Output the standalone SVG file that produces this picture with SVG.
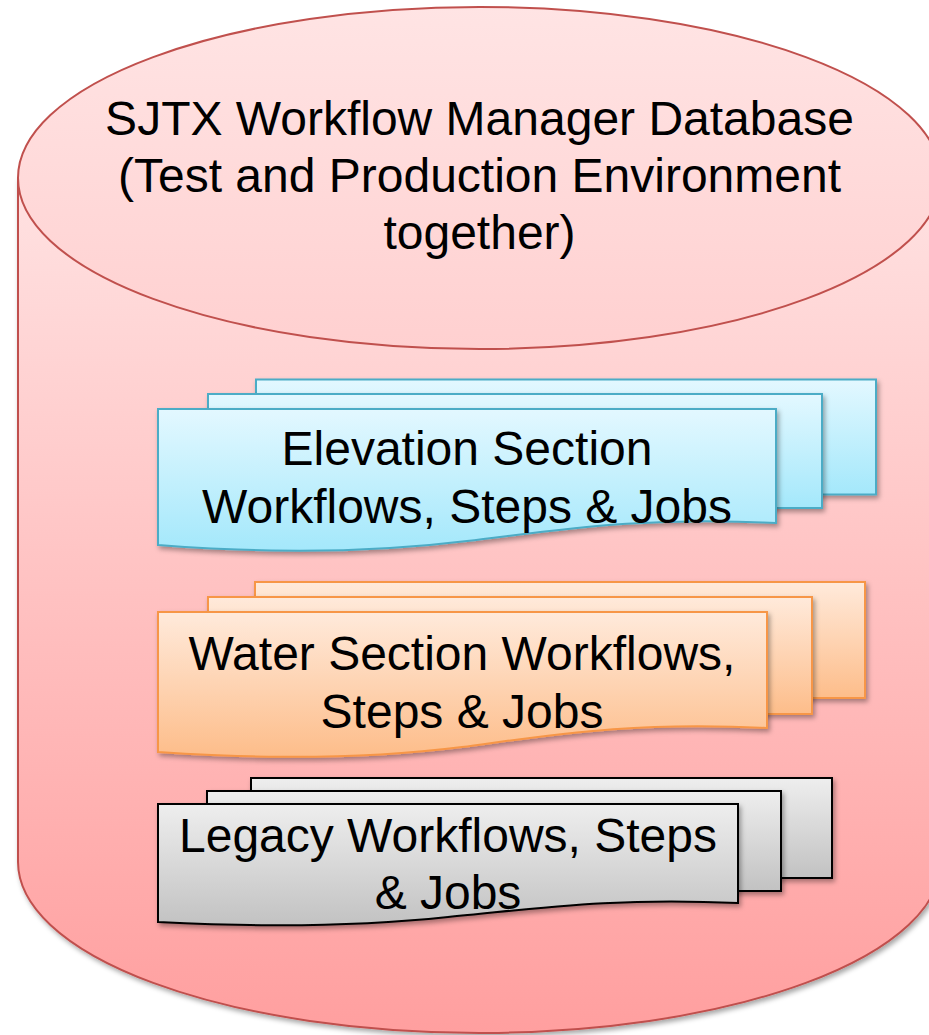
<svg xmlns="http://www.w3.org/2000/svg" width="929" height="1035" viewBox="0 0 929 1035">
<style>
text{font-family:"Liberation Sans",Arial,sans-serif;font-size:48px;fill:#000;text-anchor:middle}
.cyl{stroke:#c0504d;stroke-width:2}
.blue{stroke:#4bacc6;stroke-width:2;fill:url(#gBlue);filter:url(#sh)}
.orange{stroke:#f79646;stroke-width:2;fill:url(#gOrange);filter:url(#sh)}
.grey{stroke:#000;stroke-width:2;fill:url(#gGrey);filter:url(#sh)}
</style>
<defs>
<linearGradient id="gBody" x1="0" y1="0" x2="0" y2="1">
<stop offset="0" stop-color="#ffe2e2"/>
<stop offset="1" stop-color="#ff9f9f"/>
</linearGradient>
<linearGradient id="gTop" x1="0" y1="0" x2="0" y2="1">
<stop offset="0" stop-color="#ffe4e4"/>
<stop offset="1" stop-color="#ffd0d0"/>
</linearGradient>
<linearGradient id="gBlue" x1="0" y1="0" x2="0" y2="1">
<stop offset="0" stop-color="#e3f8ff"/>
<stop offset="1" stop-color="#a4e8fb"/>
</linearGradient>
<linearGradient id="gOrange" x1="0" y1="0" x2="0" y2="1">
<stop offset="0" stop-color="#ffeadb"/>
<stop offset="1" stop-color="#fdbd8a"/>
</linearGradient>
<linearGradient id="gGrey" x1="0" y1="0" x2="0" y2="1">
<stop offset="0" stop-color="#eeeeee"/>
<stop offset="1" stop-color="#c2c2c2"/>
</linearGradient>
<filter id="sh" x="-10%" y="-10%" width="120%" height="130%">
<feDropShadow dx="2" dy="3" stdDeviation="2.5" flood-color="#000" flood-opacity="0.35"/>
</filter>
</defs>

<g id="database">
<path class="cyl" fill="url(#gBody)" filter="url(#sh)" d="M18,178 V862 A461.5,171 0 0 0 941,862 V178 Z"/>
<ellipse class="cyl" fill="url(#gTop)" cx="479.5" cy="178" rx="461.5" ry="171"/>
<text x="479.5" y="135">SJTX Workflow Manager Database</text>
<text x="479.5" y="192">(Test and Production Environment</text>
<text x="479.5" y="249">together)</text>
</g>

<g id="elevation">
<rect class="blue" x="256" y="379.5" width="620" height="115"/>
<rect class="blue" x="208" y="394" width="614" height="114"/>
<path class="blue" d="M158,409 H776 V523 C640,516 560,530 467,541 C370,553 260,553 158,545 Z"/>
<text x="467" y="465">Elevation Section</text>
<text x="467" y="523">Workflows, Steps &amp; Jobs</text>
</g>

<g id="water">
<rect class="orange" x="255" y="582" width="610" height="116"/>
<rect class="orange" x="208" y="597" width="604" height="117"/>
<path class="orange" d="M158,612 H767 V728 C632,721 552,735 462,747 C367,759 260,759 158,752 Z"/>
<text x="462" y="670">Water Section Workflows,</text>
<text x="462" y="728">Steps &amp; Jobs</text>
</g>

<g id="legacy">
<rect class="grey" x="251" y="778" width="581" height="100"/>
<rect class="grey" x="207" y="791" width="574" height="100"/>
<path class="grey" d="M158,804 H738 V903 C610,897 535,909 448,917 C355,927 255,927 158,922 Z"/>
<text x="448" y="852">Legacy Workflows, Steps</text>
<text x="448" y="909">&amp; Jobs</text>
</g>

<g id="connectors"/>
</svg>
